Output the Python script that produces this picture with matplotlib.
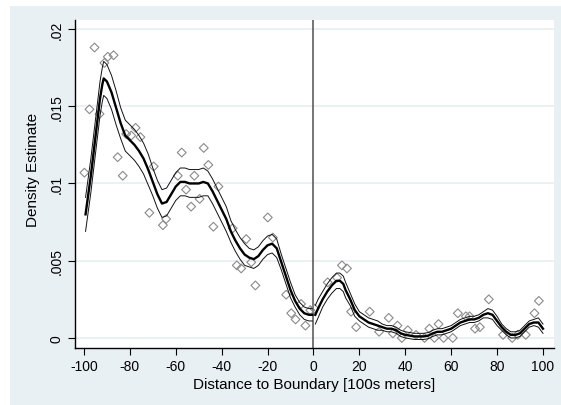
import numpy as np
import matplotlib
matplotlib.use("Agg")
import matplotlib.pyplot as plt

plt.rcParams['font.family'] = ['Liberation Sans', 'DejaVu Sans']

# smoothed density estimate, left of boundary
left_x = [-99.3, -97, -95, -93, -92, -91.4, -90, -88, -86, -84, -82, -80, -78, -76, -74,
          -72, -70, -68, -66, -64, -62, -60, -58, -56, -54, -52, -50, -48, -46, -44,
          -42, -40, -38, -36, -34, -32, -30, -28, -26, -24, -22, -20, -18, -16, -14,
          -12, -10, -8, -6, -4, -2, -0.5]
left_est = [.0080, .0105, .0130, .0155, .0164, .0168, .0166, .0159, .0149, .0139, .0131, .0128,
            .0125, .0121, .0116, .0109, .0101, .0093, .0087, .0088, .0093, .0098, .0101, .0101,
            .0100, .0100, .0100, .0101, .0100, .0095, .0089, .0083, .0077, .0069, .0063, .0058,
            .0054, .0052, .0051, .0053, .0057, .0060, .0061, .0058, .0049, .0040, .0031, .0024,
            .0019, .0016, .0015, .0015]
left_hw = [.0011, .0011, .0011, .0011, .0011, .0011, .0011, .0011, .0011, .0010, .0010, .0010,
           .0010, .0010, .0010, .0010, .0009, .0009, .0009, .0009, .0009, .0009, .0009, .0009,
           .0009, .0009, .0009, .0009, .0008, .0008, .0008, .0008, .0008, .0007, .0007, .0007,
           .0007, .0006, .0006, .0006, .0006, .0006, .0006, .0006, .0005, .0005, .0005, .0004,
           .0004, .0004, .0004, .0004]

# smoothed density estimate, right of boundary
right_x = [0.8, 2, 4, 6, 8, 10, 11.5, 13, 14, 16, 18, 20, 22, 24, 26, 28, 30, 32, 34, 36, 38,
           40, 42, 44, 46, 48, 50, 52, 54, 56, 58, 60, 62, 64, 66, 68, 70, 72, 74, 76, 78,
           80, 82, 84, 86, 88, 90, 92, 94, 96, 98, 100]
right_est = [.0015, .0019, .0025, .0030, .0034, .0037, .0037, .0035, .0031, .0025, .0018, .0014,
             .0012, .0010, .0009, .0008, .0007, .0006, .0006, .0005, .0003, .0002, .00015, .0001,
             .0001, .0001, .00015, .0003, .0004, .0004, .0005, .0006, .0008, .0010, .0011, .0012,
             .0012, .0013, .0015, .0016, .0015, .0011, .0007, .0004, .0002, .0002, .0003, .0006,
             .0009, .0010, .0010, .0006]
right_hw = [.0006, .0006, .0005, .0005, .0005, .0005, .0005, .0005, .0005, .0004, .0004, .0003,
            .0003, .0003, .0003, .0003, .0002, .0002, .0002, .0002, .0002, .0002, .0002, .0002,
            .0002, .0002, .0002, .0002, .0002, .0002, .0002, .0002, .0002, .0002, .0002, .0002,
            .0002, .0002, .0002, .0003, .0003, .0003, .0002, .0002, .0002, .0002, .0002, .0002,
            .0002, .0002, .0003, .0003]

# binned raw densities (hollow diamonds)
pts_x = [-99.8, -97.6, -95.4, -93.2, -91.1, -89.6, -87.1, -85.3, -83.1, -81.6, -79.4, -77.5,
         -75.4, -71.5, -69.6, -65.6, -64.2, -57.4, -59.1, -55.5, -53.3, -51.9, -49.6, -47.8,
         -45.8, -43.6, -41.4, -35.2, -33.4, -31.5, -29.3, -27.1, -25.3, -19.9, -17.7, -11.9,
         -9.7, -7.8, -5.4, -3.5, -1.4,
         0.4, 6.2, 10.3, 12.4, 14.6, 16.4, 18.6, 24.5, 28.6, 32.8, 34.6, 36.6, 38.5, 41.1,
         44.7, 48.4, 50.5, 52.7, 54.5, 56.7, 60.7, 62.9, 66.4, 68.0, 70.4, 72.5, 76.4, 82.6,
         86.6, 89.0, 92.5, 96.3, 98.2]
pts_y = [.0107, .0148, .0188, .0145, .0178, .0182, .0183, .0117, .0105, .0132, .0131, .0136,
         .0130, .0081, .0111, .0073, .0077, .0120, .0105, .0096, .0085, .0105, .0090, .0123,
         .0112, .0072, .0098, .0071, .0047, .0045, .0064, .0049, .0034, .0078, .0065, .0028,
         .0016, .0012, .0022, .0008, .0018,
         .0019, .0036, .0039, .0047, .0045, .0017, .0007, .0017, .0004, .0013, .0003, .0008,
         .0000, .0005, .0002, .0000, .0006, .0000, .0009, .0000, .0000, .0016, .0014, .0014,
         .0006, .0007, .0025, .0002, .0000, .0002, .0002, .0016, .0024]

yticks = [0, .005, .01, .015, .02]
ytick_labels = ['0', '.005', '.01', '.015', '.02']
xticks = [-100, -80, -60, -40, -20, 0, 20, 40, 60, 80, 100]

bg = '#E8F0F3'
fig = plt.figure(figsize=(5.61, 4.06), dpi=100, facecolor='white')
# graph region (outer light-blue panel)
gr = fig.add_axes([10 / 561, 0, 1 - 10 / 561, (406 - 7) / 406], zorder=-5)
gr.set_facecolor(bg)
gr.set_xticks([])
gr.set_yticks([])
for s in gr.spines.values():
    s.set_visible(False)

ax = fig.add_axes([75 / 561, (406 - 349) / 406, (554 - 75) / 561, (349 - 21) / 406])
ax.set_facecolor('white')

ax.set_xlim(-103.9, 104.8)
ax.set_ylim(-0.00065, 0.02058)
for y in yticks:
    ax.axhline(y, color='#E6EFF1', lw=1.2, zorder=0)

ax.axvline(0, color='#505050', lw=1.1, zorder=1)

ax.scatter(pts_x, pts_y, marker='D', s=20, facecolors='none', edgecolors='#8a8a8a',
           linewidths=0.8, zorder=2)

for xs, est, hw in [(left_x, left_est, left_hw), (right_x, right_est, right_hw)]:
    est = np.array(est)
    hw = np.array(hw)
    ax.plot(xs, est + hw, color='#111111', lw=0.7, zorder=3)
    ax.plot(xs, est - hw, color='#111111', lw=0.7, zorder=3)
    ax.plot(xs, est, color='black', lw=1.7, zorder=4)

for s in ['top', 'right']:
    ax.spines[s].set_visible(False)
for s in ['left', 'bottom']:
    ax.spines[s].set_color('black')
    ax.spines[s].set_linewidth(1.0)

ax.set_xticks(xticks)
ax.set_xticklabels([str(t) for t in xticks])
ax.set_yticks(yticks)
ax.set_yticklabels(ytick_labels, rotation=90, va='center')
ax.tick_params(axis='both', length=5, width=0.8, labelsize=10, colors='black', pad=3)
ax.set_xlabel('Distance to Boundary [100s meters]', fontsize=11, labelpad=3)
ax.set_ylabel('Density Estimate', fontsize=11)
ax.yaxis.set_label_coords(-0.073, 0.546)

fig.savefig('out.png', dpi=100, facecolor=fig.get_facecolor())
